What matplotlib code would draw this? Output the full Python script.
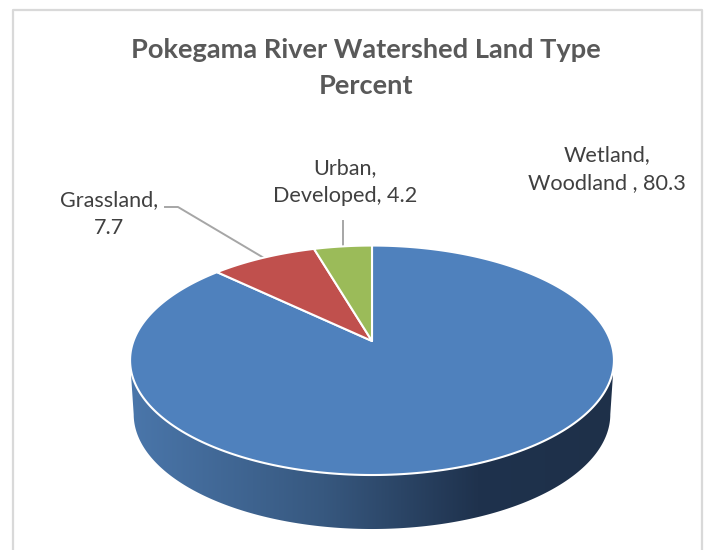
import numpy as np
import matplotlib
matplotlib.use('Agg')
import matplotlib.pyplot as plt
from matplotlib.colors import LinearSegmentedColormap
from matplotlib.patches import Polygon

plt.rcParams['font.family'] = ['Lato', 'DejaVu Sans']

title = 'Pokegama River Watershed Land Type\nPercent'
labels = ['Wetland,\nWoodland , 80.3', 'Grassland,\n7.7', 'Urban,\nDeveloped, 4.2']
values = [80.3, 7.7, 4.2]
colors = ['#4F81BD', '#C0504D', '#9BBB59']

# pie geometry in pixels, k is the perspective of the tilted disc
cx, cy = 372, 341
a, b, k = 238.5, 111.5, 0.168
depth = 54


def project(theta, r=1.0):
    # theta is clockwise from 12 o'clock
    u = r * np.sin(theta)
    w = -r * np.cos(theta)
    d = 1 - k * w
    return cx + a * u / d, cy + b * w / d


fig = plt.figure(figsize=(7.15, 5.5), dpi=100)
ax = fig.add_axes([0, 0, 1, 1])

# chart frame, runs off the bottom of the picture
ax.plot([13, 13, 702, 702], [560, 10, 10, 560], color='#D9D9D9', lw=1.6, zorder=1)

# side of the disc, from the widest point on one side round to the other
t = np.linspace(np.pi / 2 + 0.169, 3 * np.pi / 2 - 0.169, 200)
xt, yt = project(t)
xb = cx + (xt - cx) * 0.985
yb = yt + depth
side = Polygon(np.r_[np.c_[xt, yt], np.c_[xb, yb][::-1]], closed=True, fc='none', ec='none')
ax.add_patch(side)
shade = LinearSegmentedColormap.from_list(
    'shade', [(0, '#4A76AA'), (0.4, '#37587F'), (0.72, '#1F324D'), (1, '#1E3049')])
img = ax.imshow(np.linspace(0, 1, 256).reshape(1, -1), cmap=shade, aspect='auto',
                extent=[131, 613, 530, 340], zorder=2)
img.set_clip_path(side)

# top of the disc
fracs = np.array(values) / sum(values)
edges = np.r_[0, np.cumsum(fracs)] * 2 * np.pi
for i in range(len(values)):
    t = np.linspace(edges[i], edges[i + 1], 300)
    x, y = project(t)
    pts = np.r_[[[cx, cy]], np.c_[x, y]]
    ax.add_patch(Polygon(pts, closed=True, fc=colors[i], ec='white', lw=1.5,
                         joinstyle='round', zorder=3))

# leader lines
ax.plot([165, 178, 264], [207, 207, 258], color='#A6A6A6', lw=1.4, zorder=2.5)
ax.plot([343, 343], [221, 247], color='#A6A6A6', lw=1.4, zorder=2.5)

ax.text(366, 68, title, ha='center', va='center', fontsize=19.6, fontweight='bold',
        color='#595959', linespacing=1.55)
label_pos = [(607, 169), (109, 214), (345, 182)]
for lab, (lx, ly) in zip(labels, label_pos):
    ax.text(lx, ly, lab, ha='center', va='center', fontsize=15.6, color='#404040',
            linespacing=1.46)

ax.set_xlim(0, 715)
ax.set_ylim(550, 0)
ax.axis('off')

fig.savefig('out.png', dpi=100)
